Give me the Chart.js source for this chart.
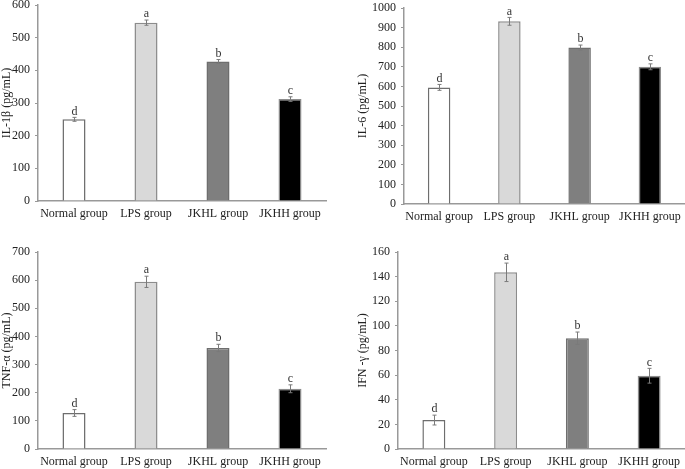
<!DOCTYPE html>
<html>
<head>
<meta charset="utf-8">
<script src="https://cdn.jsdelivr.net/npm/chart.js@4.4.1/dist/chart.umd.min.js"></script>
<style>
  html, body { margin: 0; padding: 0; background: #fff; }
  #wrap { position: relative; width: 685px; height: 469px; overflow: hidden; }
  canvas { position: absolute; }
</style>
</head>
<body>
<div id="wrap">
  <canvas id="c-il1b" width="340" height="235" style="left:0;top:0"></canvas>
  <canvas id="c-il6" width="345" height="235" style="left:340px;top:0"></canvas>
  <canvas id="c-tnf" width="340" height="234" style="left:0;top:235px"></canvas>
  <canvas id="c-ifn" width="345" height="234" style="left:340px;top:235px"></canvas>
</div>
<script>
// 데이터
const categories = ['Normal group', 'LPS group', 'JKHL group', 'JKHH group'];
const letters = ['d', 'a', 'b', 'c'];

const il1bValues = [250, 546, 427, 312];
const il1bErrors = [6, 8, 6, 7];
const il1bTicks = [0, 100, 200, 300, 400, 500, 600];

const il6Values = [595, 932, 798, 700];
const il6Errors = [15, 20, 13, 15];
const il6Ticks = [0, 100, 200, 300, 400, 500, 600, 700, 800, 900, 1000];

const tnfValues = [128, 594, 359, 214];
const tnfErrors = [12, 20, 13, 14];
const tnfTicks = [0, 100, 200, 300, 400, 500, 600, 700];

const ifnValues = [23.5, 143.5, 90, 59.5];
const ifnErrors = [4, 7.5, 5, 6];
const ifnTicks = [0, 20, 40, 60, 80, 100, 120, 140, 160];

const FONT = "'Liberation Serif', 'Times New Roman', serif";
const TEXT = '#222';
const AXIS = '#999';

// error bar + letter plugin
const errorBarPlugin = {
  id: 'errorBars',
  afterDatasetsDraw(chart, args, opts) {
    const { ctx } = chart;
    const yScale = chart.scales.y;
    const meta = chart.getDatasetMeta(0);
    const values = chart.data.datasets[0].data;
    ctx.save();
    meta.data.forEach((bar, i) => {
      const x = Math.round(bar.x) + 0.5;
      const yTop = yScale.getPixelForValue(values[i] + opts.errors[i]);
      const yBot = yScale.getPixelForValue(values[i] - opts.errors[i]);
      ctx.strokeStyle = '#7a7a7a';
      ctx.lineWidth = 1;
      ctx.beginPath();
      ctx.moveTo(x, yTop);
      ctx.lineTo(x, yBot);
      ctx.moveTo(x - 2, yTop);
      ctx.lineTo(x + 2, yTop);
      ctx.moveTo(x - 2, yBot);
      ctx.lineTo(x + 2, yBot);
      ctx.stroke();

      ctx.fillStyle = '#333';
      ctx.font = `12px ${FONT}`;
      ctx.textAlign = 'center';
      ctx.textBaseline = 'bottom';
      ctx.fillText(opts.letters[i], x, yTop);
    });
    ctx.restore();
  },
};

function makeChart(id, values, errors, ticks, title, box) {
  const ctx = document.getElementById(id);
  return new Chart(ctx, {
    type: 'bar',
    data: {
      labels: categories,
      datasets: [
        {
          data: values,
          backgroundColor: ['#ffffff', '#d9d9d9', '#7f7f7f', '#000000'],
          borderColor: ['#6e6e6e', '#8c8c8c', '#6e6e6e', '#8c8c8c'],
          borderWidth: 1.5,
          barPercentage: 1,
          categoryPercentage: 0.32,
        },
      ],
    },
    options: {
      responsive: false,
      animation: false,
      events: [],
      layout: {
        padding: { top: box.top, right: box.right, left: 0, bottom: 0 },
      },
      plugins: {
        legend: { display: false },
        tooltip: { enabled: false },
        errorBars: { errors, letters },
      },
      scales: {
        x: {
          grid: { display: false, drawTicks: false },
          border: { display: true, color: AXIS, width: 1.5 },
          ticks: {
            color: TEXT,
            font: { family: FONT, size: 12 },
            padding: 6,
            maxRotation: 0,
            autoSkip: false,
          },
          afterFit(scale) {
            scale.height = box.xh;
            scale.paddingLeft = 0;
            scale.paddingRight = 0;
          },
        },
        y: {
          min: ticks[0],
          max: ticks[ticks.length - 1],
          afterBuildTicks(scale) {
            scale.ticks = ticks.map((v) => ({ value: v }));
          },
          grid: {
            display: true,
            drawOnChartArea: false,
            drawTicks: true,
            tickLength: 3,
            color: AXIS,
          },
          border: { display: true, color: AXIS, width: 1.5 },
          ticks: {
            color: TEXT,
            font: { family: FONT, size: 12 },
            padding: 5,
            callback: (v) => String(v),
          },
          title: {
            display: true,
            text: title,
            color: TEXT,
            font: { family: FONT, size: 12 },
            padding: { top: box.titlePad, bottom: 0 },
          },
          afterFit(scale) {
            scale.width = box.yw;
            scale.paddingTop = 0;
            scale.paddingBottom = 0;
          },
        },
      },
    },
    plugins: [errorBarPlugin],
  });
}

makeChart('c-il1b', il1bValues, il1bErrors, il1bTicks, 'IL-1β (pg/mL)',
  { top: 5, right: 14, xh: 34, yw: 38, titlePad: 0 });
makeChart('c-il6', il6Values, il6Errors, il6Ticks, 'IL-6 (pg/mL)',
  { top: 8, right: 0, xh: 31, yw: 64, titlePad: 16 });
makeChart('c-tnf', tnfValues, tnfErrors, tnfTicks, 'TNF-α (pg/mL)',
  { top: 17, right: 14, xh: 20, yw: 38, titlePad: 0 });
makeChart('c-ifn', ifnValues, ifnErrors, ifnTicks, 'IFN -γ (pg/mL)',
  { top: 17, right: 0, xh: 20, yw: 58, titlePad: 16 });
</script>
</body>
</html>
